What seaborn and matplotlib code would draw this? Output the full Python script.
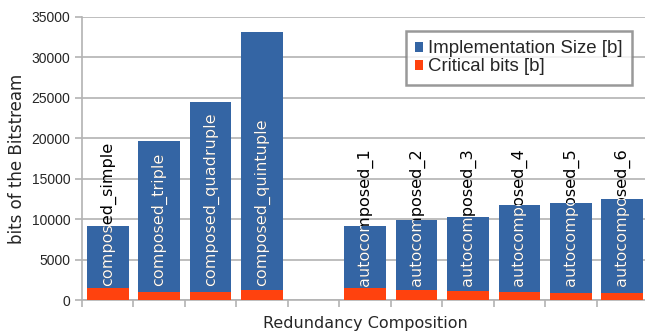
import numpy as np
import pandas as pd
import seaborn as sns
from matplotlib import pyplot as plt
from matplotlib.transforms import Bbox, TransformedBbox

# Data
categories = ["composed_simple", "composed_triple", "composed_quadruple", "composed_quintuple", "",
              "autocomposed_1", "autocomposed_2", "autocomposed_3", "autocomposed_4",
              "autocomposed_5", "autocomposed_6"]
impl_size = [9150, 19650, 24500, 33150, np.nan, 9150, 9900, 10250, 11750, 12000, 12500]
critical_bits = [1520, 1030, 1030, 1280, np.nan, 1520, 1280, 1110, 990, 870, 870]

blue = "#3465a4"
red = "#ff420e"
grid_col = "#b3b3b3"
bar_w = 0.81

slots = [c if c else "gap" for c in categories]
df = pd.DataFrame({"slot": slots, "impl": impl_size, "crit": critical_bits})

sns.set_style("white")
plt.rcParams['font.family'] = ['Liberation Sans', 'DejaVu Sans']

fig = plt.figure(figsize=(6.45, 3.31), dpi=100)
ax = fig.add_axes([82 / 645, 1 - 300 / 331, 566 / 645, 283 / 331])

sns.barplot(data=df, x="slot", y="impl", order=slots, color=blue, width=bar_w,
            saturation=1, ax=ax, label="Implementation Size [b]", zorder=2, linewidth=0)
sns.barplot(data=df, x="slot", y="crit", order=slots, color=red, width=bar_w,
            saturation=1, ax=ax, label="Critical bits [b]", zorder=3, linewidth=0)

# bar labels: black outside the bar, white inside it
for i, name in enumerate(categories):
    if not name:
        continue
    ax.text(i, 1700, name, rotation=90, ha="center", va="bottom", fontsize=11.6,
            family="DejaVu Sans", color="black", zorder=4)
    t = ax.text(i, 1700, name, rotation=90, ha="center", va="bottom", fontsize=11.6,
                family="DejaVu Sans", color="white", zorder=5, clip_on=True)
    box = Bbox.from_extents(i - bar_w / 2, 0, i + bar_w / 2, impl_size[i])
    t.set_clip_path(None)
    t.set_clip_box(TransformedBbox(box, ax.transData))

ax.set_xlim(-0.5, len(categories) - 0.5)
ax.set_ylim(0, 35000)
ax.set_yticks(range(0, 35001, 5000))
ax.set_xticks(np.arange(-0.5, len(categories), 1.0))
ax.set_xticklabels([])
ax.tick_params(axis="both", which="major", length=5, color=grid_col, width=1.2,
               direction="out", labelsize=10, left=True, bottom=True)
ax.yaxis.grid(True, color=grid_col, linewidth=1.2, zorder=0)
ax.set_axisbelow(True)
for s in ["top", "right"]:
    ax.spines[s].set_visible(False)
for s in ["left", "bottom"]:
    ax.spines[s].set_color(grid_col)
    ax.spines[s].set_linewidth(1.2)

ax.set_xlabel("Redundancy Composition", fontsize=11.5, family="DejaVu Sans", labelpad=3)
ax.set_ylabel("bits of the Bitstream", fontsize=12, family="DejaVu Sans", labelpad=4)

leg = ax.legend(loc="upper right", bbox_to_anchor=(632 / 645, 1 - 31 / 331),
                bbox_transform=fig.transFigure, fontsize=13.4, fancybox=False,
                handlelength=0.45, handleheight=0.45, handletextpad=0.25,
                borderpad=0.5, labelspacing=0.05, borderaxespad=0)
leg.get_frame().set_edgecolor("#808080")
leg.get_frame().set_linewidth(1.8)

fig.savefig("out.png", dpi=100)
